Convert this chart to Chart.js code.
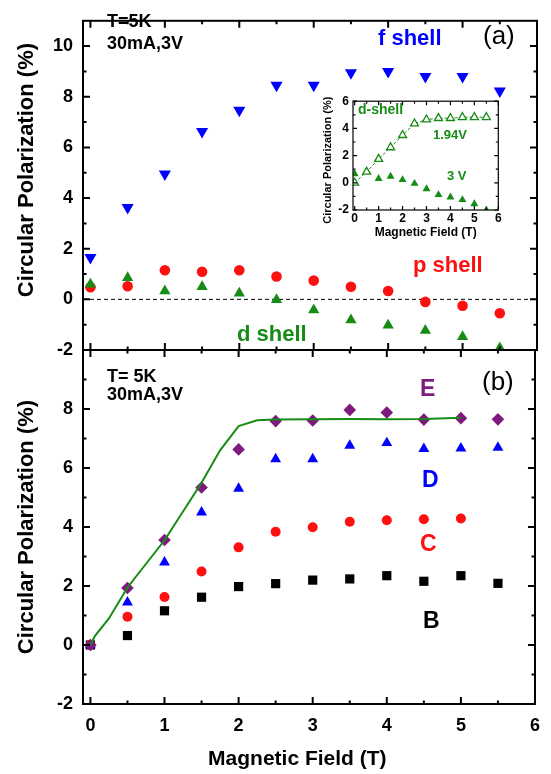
<!DOCTYPE html>
<html>
<head>
<meta charset="utf-8">
<script src="https://cdn.jsdelivr.net/npm/chart.js@4.4.1/dist/chart.umd.min.js"></script>
<style>
  html, body { margin: 0; padding: 0; background: #fff; }
  #wrap { position: relative; width: 551px; height: 774px; overflow: hidden; }
  canvas { position: absolute; }
</style>
</head>
<body>
<div id="wrap">
  <canvas id="panelA" width="551" height="774" style="left:0;top:0"></canvas>
  <canvas id="panelB" width="551" height="774" style="left:0;top:0"></canvas>
  <canvas id="inset" width="200" height="160" style="left:310px;top:90px"></canvas>
</div>
<script>
// magnetic field steps (T)
const fields = [0, 0.5, 1, 1.5, 2, 2.5, 3, 3.5, 4, 4.5, 5, 5.5];

// panel (a) - circular polarization (%)
const fShell = [1.65, 3.63, 4.95, 6.63, 7.47, 8.45, 8.45, 8.95, 9.0, 8.8, 8.8, 8.23];
const pShell = [0.48, 0.52, 1.15, 1.09, 1.15, 0.9, 0.74, 0.5, 0.33, -0.1, -0.25, -0.55];
const dShell = [0.6, 0.85, 0.33, 0.5, 0.24, -0.02, -0.42, -0.82, -1.02, -1.23, -1.48, -1.92];

// inset - d-shell at two bias voltages
const dShell194V = [0, 0.8, 1.75, 2.6, 3.5, 4.35, 4.65, 4.75, 4.75, 4.82, 4.82, 4.82];
const dShell3V = [0.65, 0.85, 0.3, 0.47, 0.22, -0.05, -0.45, -0.88, -1.05, -1.25, -1.55, -2.0];

// panel (b)
const seriesE = [0, 1.93, 3.56, 5.34, 6.63, 7.59, 7.61, 7.97, 7.88, 7.64, 7.69, 7.65];
const seriesD = [0, 1.45, 2.8, 4.5, 5.3, 6.3, 6.3, 6.76, 6.85, 6.65, 6.67, 6.69];
const seriesC = [0, 0.96, 1.63, 2.49, 3.31, 3.84, 3.99, 4.18, 4.23, 4.26, 4.29];
const seriesB = [0, 0.32, 1.16, 1.62, 1.98, 2.08, 2.2, 2.24, 2.35, 2.16, 2.35, 2.09];

// green guide curve in panel (b)
const fitFields = [0, 0.06, 0.25, 0.5, 1, 1.5, 1.75, 2, 2.25, 2.5, 3, 3.5, 4, 4.5, 5];
const fitValues = [0, 0.3, 0.9, 1.95, 3.55, 5.5, 6.6, 7.42, 7.62, 7.64, 7.65, 7.66, 7.65, 7.66, 7.7];

// axis tick positions
const xMajorTicks = [0, 1, 2, 3, 4, 5, 6];
const xMinorTicks = [0.5, 1.5, 2.5, 3.5, 4.5, 5.5];
const yMajorTicksA = [-2, 0, 2, 4, 6, 8, 10];
const yMinorTicksA = [-1, 1, 3, 5, 7, 9];
const yMajorTicksB = [-2, 0, 2, 4, 6, 8, 10];
const yMinorTicksB = [-1, 1, 3, 5, 7, 9];
const yMajorTicksInset = [-2, 0, 2, 4, 6];
const yMinorTicksInset = [-1, 1, 3, 5];

const FONT = "'Liberation Sans', Arial, Helvetica, sans-serif";
const BLUE = '#0000ff';
const RED = '#ff1010';
const GREEN = '#168c16';
const PURPLE = '#7d1a7d';

Chart.defaults.font.family = FONT;
Chart.defaults.color = '#000';

const pts = (xs, ys) => ys.map((y, i) => ({ x: xs[i], y }));

function framePlugin(o) {
  return {
    id: 'frame',
    afterDraw(chart) {
      const { ctx, chartArea: a } = chart;
      const x = chart.scales.x;
      const y = chart.scales.y;
      ctx.save();
      ctx.strokeStyle = '#000';
      ctx.lineWidth = o.width;
      ctx.beginPath();
      const xt = (v, len) => {
        const px = x.getPixelForValue(v);
        ctx.moveTo(px, a.bottom); ctx.lineTo(px, a.bottom - len);
        ctx.moveTo(px, a.top); ctx.lineTo(px, a.top + len);
      };
      const yt = (v, len) => {
        const py = y.getPixelForValue(v);
        ctx.moveTo(a.left, py); ctx.lineTo(a.left + len, py);
        ctx.moveTo(a.right, py); ctx.lineTo(a.right - len, py);
      };
      o.xMajor.forEach(v => xt(v, o.major));
      o.xMinor.forEach(v => xt(v, o.minor));
      o.yMajor.forEach(v => yt(v, o.major));
      o.yMinor.forEach(v => yt(v, o.minor));
      ctx.stroke();
      ctx.strokeRect(a.left, a.top, a.right - a.left, a.bottom - a.top);
      ctx.restore();
    }
  };
}

function textPlugin(items) {
  return {
    id: 'texts',
    afterDraw(chart) {
      const ctx = chart.ctx;
      ctx.save();
      ctx.textBaseline = 'alphabetic';
      ctx.textAlign = 'left';
      items.forEach(t => {
        ctx.font = `${t.weight || 'bold'} ${t.size}px ${FONT}`;
        ctx.fillStyle = t.color || '#000';
        ctx.fillText(t.text, t.x, t.y);
      });
      ctx.restore();
    }
  };
}

const zeroLine = {
  id: 'zeroLine',
  beforeDatasetsDraw(chart) {
    const { ctx, chartArea: a } = chart;
    const py = chart.scales.y.getPixelForValue(0);
    ctx.save();
    ctx.strokeStyle = '#000';
    ctx.lineWidth = 1;
    ctx.setLineDash([4, 3]);
    ctx.beginPath();
    ctx.moveTo(a.left, py);
    ctx.lineTo(a.right, py);
    ctx.stroke();
    ctx.restore();
  }
};

function yScale(min, max, title, extra) {
  return Object.assign({
    type: 'linear',
    min: min,
    max: max,
    grid: { display: false, drawTicks: false },
    border: { display: false },
    ticks: {
      stepSize: 2,
      includeBounds: false,
      padding: 10,
      color: '#000',
      font: { size: 18, weight: 'bold' }
    },
    title: {
      display: true,
      text: title,
      color: '#000',
      font: { size: 22, weight: 'bold' },
      padding: { top: 14, bottom: 0 }
    },
    afterFit(scale) { scale.width = 83; }
  }, extra || {});
}

const baseOptions = {
  responsive: false,
  animation: false,
  events: [],
  plugins: { legend: { display: false }, tooltip: { enabled: false } }
};

// panel (a)
new Chart(document.getElementById('panelA'), {
  type: 'scatter',
  data: {
    datasets: [
      { label: 'f shell', data: pts(fields, fShell), pointStyle: 'triangle', pointRotation: 180, pointRadius: 7,
        pointBackgroundColor: BLUE, pointBorderWidth: 0 },
      { label: 'd shell', data: pts(fields, dShell), pointStyle: 'triangle', pointRadius: 6.5,
        pointBackgroundColor: GREEN, pointBorderWidth: 0 },
      { label: 'p shell', data: pts(fields, pShell), pointStyle: 'circle', pointRadius: 5.3,
        pointBackgroundColor: RED, pointBorderWidth: 0 },
    ]
  },
  options: Object.assign({}, baseOptions, {
    layout: { padding: { top: 5, right: 14, bottom: 424, left: 0 } },
    scales: {
      x: { type: 'linear', min: -0.1, max: 6, display: false },
      y: yScale(-2, 11, '     Circular Polarization (%)')
    }
  }),
  plugins: [
    zeroLine,
    framePlugin({ width: 2, major: 7, minor: 3.5, xMajor: xMajorTicks, xMinor: xMinorTicks, yMajor: yMajorTicksA, yMinor: yMinorTicksA }),
    textPlugin([
      { text: 'T=5K', x: 107, y: 27, size: 18 },
      { text: '30mA,3V', x: 107, y: 49, size: 18 },
      { text: 'f shell', x: 378, y: 45, size: 22, color: BLUE },
      { text: '(a)', x: 483, y: 44, size: 26, weight: 'normal' },
      { text: 'p shell', x: 413, y: 272, size: 22, color: RED },
      { text: 'd shell', x: 237, y: 341, size: 22, color: GREEN },
    ])
  ]
});

// panel (b)
new Chart(document.getElementById('panelB'), {
  type: 'scatter',
  data: {
    datasets: [
      { label: 'guide', data: pts(fitFields, fitValues), showLine: true, borderColor: GREEN, borderWidth: 2,
        pointRadius: 0, tension: 0 },
      { label: 'E', data: pts(fields, seriesE), pointStyle: 'rectRot', pointRadius: 6.3,
        pointBackgroundColor: PURPLE, pointBorderWidth: 0 },
      { label: 'D', data: pts(fields, seriesD), pointStyle: 'triangle', pointRadius: 6.3,
        pointBackgroundColor: BLUE, pointBorderWidth: 0 },
      { label: 'C', data: pts(fields, seriesC), pointStyle: 'circle', pointRadius: 5,
        pointBackgroundColor: RED, pointBorderWidth: 0 },
      { label: 'B', data: pts(fields, seriesB), pointStyle: 'rect', pointRadius: 6.5,
        pointBackgroundColor: '#000', pointBorderWidth: 0 },
    ]
  },
  options: Object.assign({}, baseOptions, {
    layout: { padding: { top: 350, right: 14, bottom: 0, left: 0 } },
    scales: {
      x: {
        type: 'linear',
        min: -0.1,
        max: 6,
        grid: { display: false, drawTicks: false },
        border: { display: false },
        ticks: { stepSize: 1, includeBounds: false, padding: 11, color: '#000', font: { size: 18, weight: 'bold' } },
        title: {
          display: true,
          text: 'Magnetic Field (T)    ',
          color: '#000',
          font: { size: 21, weight: 'bold' },
          padding: { top: 0, bottom: 2 }
        },
        afterFit(scale) { scale.height = 70; }
      },
      y: yScale(-2, 10, 'Circular Polarization (%)', {
        ticks: {
          stepSize: 2,
          includeBounds: false,
          padding: 10,
          color: '#000',
          font: { size: 18, weight: 'bold' },
          callback: v => (v === 10 ? '' : v)
        }
      })
    }
  }),
  plugins: [
    framePlugin({ width: 2, major: 7, minor: 3.5, xMajor: xMajorTicks, xMinor: xMinorTicks, yMajor: yMajorTicksB, yMinor: yMinorTicksB }),
    textPlugin([
      { text: 'T= 5K', x: 107, y: 382, size: 18 },
      { text: '30mA,3V', x: 107, y: 400, size: 18 },
      { text: '(b)', x: 482, y: 390, size: 26, weight: 'normal' },
      { text: 'E', x: 420, y: 396, size: 23, color: PURPLE },
      { text: 'D', x: 422, y: 487, size: 23, color: BLUE },
      { text: 'C', x: 420, y: 551, size: 23, color: RED },
      { text: 'B', x: 423, y: 628, size: 23 },
    ])
  ]
});

// inset of panel (a)
new Chart(document.getElementById('inset'), {
  type: 'scatter',
  data: {
    datasets: [
      { label: '1.94V', data: pts(fields, dShell194V), showLine: true, borderColor: GREEN, borderWidth: 1,
        borderDash: [3, 2], pointStyle: 'triangle', pointRadius: 4.6, pointBackgroundColor: '#fff',
        pointBorderColor: GREEN, pointBorderWidth: 1.3 },
      { label: '3 V', data: pts(fields, dShell3V), pointStyle: 'triangle', pointRadius: 4.6,
        pointBackgroundColor: GREEN, pointBorderWidth: 0 },
    ]
  },
  options: Object.assign({}, baseOptions, {
    layout: { padding: { top: 7.3, right: 11.7, bottom: 0, left: 0 } },
    scales: {
      x: {
        type: 'linear',
        min: -0.07,
        max: 6,
        grid: { display: false, drawTicks: false },
        border: { display: false },
        ticks: { stepSize: 1, includeBounds: false, padding: 1, color: '#000', font: { size: 12, weight: 'bold' } },
        title: {
          display: true,
          text: 'Magnetic Field (T)',
          color: '#000',
          font: { size: 12, weight: 'bold' },
          padding: { top: 0, bottom: 10 }
        },
        afterFit(scale) { scale.height = 40; }
      },
      y: {
        type: 'linear',
        min: -2,
        max: 6,
        grid: { display: false, drawTicks: false },
        border: { display: false },
        ticks: { stepSize: 2, includeBounds: false, padding: 4, color: '#000', font: { size: 12, weight: 'bold' } },
        title: {
          display: true,
          text: 'Circular Polarization (%)   ',
          color: '#000',
          font: { size: 11, weight: 'bold' },
          padding: { top: 11, bottom: 0 }
        },
        afterFit(scale) { scale.width = 43; }
      }
    }
  }),
  plugins: [
    framePlugin({ width: 1.2, major: 4, minor: 2.5, xMajor: xMajorTicks, xMinor: xMinorTicks, yMajor: yMajorTicksInset, yMinor: yMinorTicksInset }),
    textPlugin([
      { text: 'd-shell', x: 48, y: 24, size: 14, color: GREEN },
      { text: '1.94V', x: 123, y: 49, size: 13, color: GREEN },
      { text: '3 V', x: 137, y: 90, size: 13, color: GREEN },
    ])
  ]
});
</script>
</body>
</html>
